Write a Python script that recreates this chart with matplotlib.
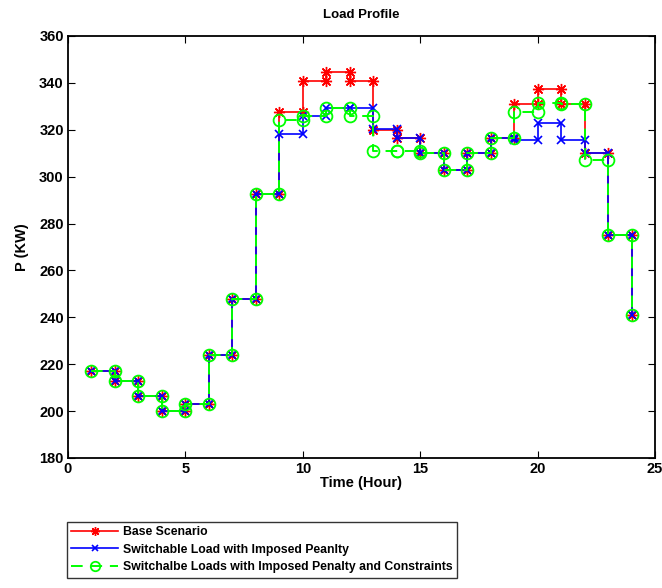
import numpy as np
import matplotlib
matplotlib.use("Agg")
import matplotlib.pyplot as plt

plt.rcParams['font.family'] = ['Liberation Sans', 'DejaVu Sans']
plt.rcParams['font.weight'] = 'bold'

hours = list(range(1, 25))
base = [217, 213, 206.5, 200, 203, 224, 248, 292.5, 327.5, 341, 344.5, 341,
        320, 316.7, 310, 303, 310, 316.5, 330.8, 337.5, 331, 310, 275, 241]
switch_pen = [217, 213, 206.5, 200, 203, 224, 248, 292.5, 318, 326, 329.3, 329.3,
              320.5, 316.7, 310, 303, 310, 316.5, 315.5, 322.8, 315.5, 310, 275, 241]
switch_pen_con = [217, 213, 206.5, 200, 203, 224, 248, 292.5, 324, 326, 329.3, 326,
                  311, 311, 310, 303, 310, 316.5, 327.5, 331.3, 331, 307, 275, 241]
labels = ["Base Scenario",
          "Switchable Load with Imposed Peanlty",
          "Switchalbe Loads with Imposed Penalty and Constraints"]
xticks = [0, 5, 10, 15, 20, 25]
yticks = list(range(180, 361, 20))


def stair_vertices(x, y):
    x = np.asarray(x, dtype=float)
    y = np.asarray(y, dtype=float)
    xv = np.empty(2 * len(x) - 1)
    yv = np.empty(2 * len(x) - 1)
    xv[0::2] = x
    xv[1::2] = x[1:]
    yv[0::2] = y
    yv[1::2] = y[:-1]
    return xv, yv


fig = plt.figure(figsize=(6.62, 5.88), dpi=100)
ax = fig.add_axes([0.1027, 0.2211, 0.8867, 0.7177])

xv, yv = stair_vertices(hours, base)
l1, = ax.plot(xv, yv, color='red', lw=1.2, marker=(8, 2, 0), ms=8, mew=1.0, label=labels[0])
xv, yv = stair_vertices(hours, switch_pen)
l2, = ax.plot(xv, yv, color='blue', lw=1.2, marker='x', ms=6, mew=1.2, label=labels[1])
xv, yv = stair_vertices(hours, switch_pen_con)
l3, = ax.plot(xv, yv, color='#00ff00', lw=1.4, ls=(0, (6, 4)), marker='o', ms=8.5,
              mfc='none', mew=1.3, label=labels[2])

ax.set_xlim(0, 25)
ax.set_ylim(180, 360)
ax.set_xticks(xticks)
ax.set_yticks(yticks)
ax.tick_params(direction='in', top=True, right=True, length=5, width=0.8,
               labelsize=10.5, pad=3)
for lab in ax.get_xticklabels() + ax.get_yticklabels():
    lab.set_fontweight('bold')
for s in ax.spines.values():
    s.set_linewidth(1.3)

ax.set_title("Load Profile", fontsize=9.5, fontweight='bold', pad=13)
ax.set_xlabel("Time (Hour)", fontsize=10.5, fontweight='bold', labelpad=0)
ax.set_ylabel("P (KW)", fontsize=10.5, fontweight='bold', labelpad=7)

leg = fig.legend(handles=[l1, l2, l3], loc='upper left',
                 bbox_to_anchor=(67 / 662, 1 - 522 / 588),
                 prop={'size': 8.8, 'weight': 'bold'}, frameon=True, fancybox=False,
                 edgecolor='black', handlelength=3.8, handletextpad=0.4,
                 borderpad=0.35, labelspacing=0.45, borderaxespad=0, markerscale=0.8)
leg.get_frame().set_linewidth(1.0)

fig.savefig("out.png", dpi=100)
